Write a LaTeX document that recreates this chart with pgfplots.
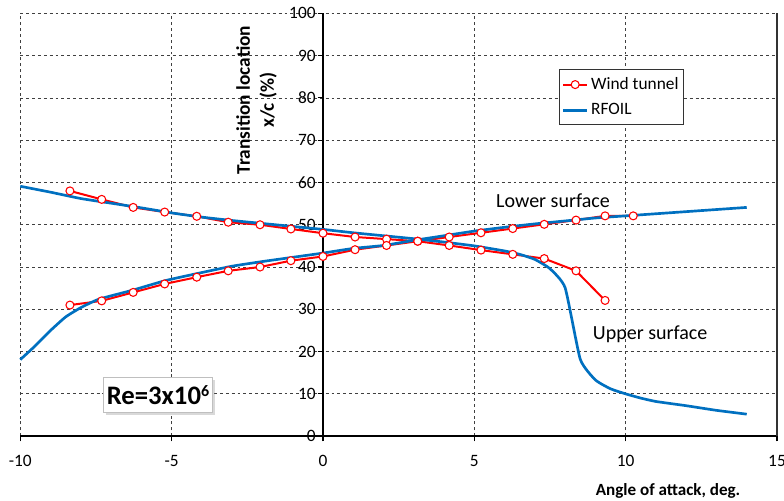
\documentclass[border=0pt]{standalone}
\usepackage{fontspec}
\setmainfont{Carlito}
\usepackage{pgfplots}
\pgfplotsset{compat=1.18}
\usetikzlibrary{shadows}
\definecolor{wtred}{RGB}{255,0,0}
\definecolor{rfblue}{RGB}{0,112,192}

\begin{document}
\begin{tikzpicture}
\begin{axis}[
    scale only axis,
    width=567pt, height=316.8pt,
    xmin=-10, xmax=15, ymin=0, ymax=100,
    axis x line=bottom, axis y line=middle,
    axis line style={-, line width=1.6pt, black},
    xtick={-10,-5,...,15}, ytick={0,10,...,100},
    hide obscured x ticks=false, hide obscured y ticks=false,
    grid=major,
    major grid style={dash pattern=on 2.2pt off 2.2pt, black!75, line width=0.6pt},
    tick style={black, line width=0.8pt},
    major tick length=4pt,
    tick align=outside,
    /pgf/number format/assume math mode=true,
    tick label style={font=\fontsize{13}{15}\selectfont},
    xticklabel style={yshift=-7pt},
    yticklabel style={xshift=2pt},
    xlabel={Angle of attack, deg.},
    xlabel style={at={(axis description cs:0.856,-0.1286)}, anchor=center,
        font=\fontsize{12.8}{15}\selectfont\bfseries},
    ylabel={Transition location\\x/c (\%)},
    ylabel style={at={(axis description cs:0.3122,0.7947)}, anchor=center, rotate=90,
        align=center, font=\fontsize{14.5}{18}\selectfont\bfseries},
    legend style={at={(axis description cs:0.7116,0.868)}, anchor=north west,
        draw=black!80, line width=0.6pt, font=\fontsize{13}{15}\selectfont,
        inner xsep=2pt, inner ysep=4pt, row sep=5pt},
    legend cell align=left,
    legend image code/.code={\draw[mark repeat=2,mark phase=2,#1] plot coordinates {(0pt,0pt) (9pt,0pt) (18pt,0pt)};},
    clip=false,
]
% wind tunnel, upper surface
\addplot[wtred, line width=1.5pt, mark=*, mark size=3pt,
    mark options={fill=white, draw=wtred, line width=0.8pt}] coordinates {
(-8.36,58.0) (-7.31,56.0) (-6.27,54.1) (-5.23,53.0) (-4.17,52.0) (-3.13,50.6)
(-2.08,50.0) (-1.06,49.0) (0,48.0) (1.06,47.1) (2.1,46.6) (3.13,46.1)
(4.17,45.1) (5.22,44.0) (6.27,43.0) (7.31,42.0) (8.36,39.1) (9.32,32.1)
};
\addlegendentry{Wind tunnel}
% wind tunnel, lower surface
\addplot[wtred, line width=1.5pt, mark=*, mark size=3pt,
    mark options={fill=white, draw=wtred, line width=0.8pt}, forget plot] coordinates {
(-8.36,31.0) (-7.31,32.0) (-6.27,34.0) (-5.23,36.0) (-4.17,37.6) (-3.13,39.1)
(-2.08,40.0) (-1.06,41.5) (0,42.5) (1.06,44.1) (2.1,45.1) (3.13,46.1)
(4.17,47.1) (5.22,48.1) (6.27,49.1) (7.31,50.1) (8.36,51.1) (9.32,52.1) (10.25,52.1)
};
% RFOIL, upper surface
\addplot[rfblue, line width=2pt, smooth, tension=0.3] coordinates {
(-10,59.1) (-9,57.7) (-8,56.2) (-7,55.1) (-6,54.0) (-5,52.8) (-4,51.8) (-3,51.0)
(-2,50.3) (-1,49.6) (0,48.9) (1,48.1) (2,47.4) (3,46.7) (4,45.9) (5,45.0)
(6,43.8) (6.5,43.0) (7,41.8) (7.5,39.6) (8,35.1) (8.5,18.2) (9,13.3) (9.5,11.2)
(10,10.0) (10.5,9.0) (11,8.2) (12,7.2) (13,6.1) (14,5.2)
};
\addlegendentry{RFOIL}
% RFOIL, lower surface
\addplot[rfblue, line width=2pt, smooth, tension=0.3, forget plot] coordinates {
(-10,18.1) (-9.5,21.4) (-9,25.0) (-8.5,28.2) (-8,30.4) (-7.4,32.4) (-6.3,34.5)
(-5.2,36.8) (-4,38.7) (-3,40.2) (-2,41.3) (-1,42.3) (0,43.3) (1,44.4) (2,45.1)
(3,46.3) (4,47.4) (5,48.5) (6,49.4) (7,50.2) (8,50.9) (9,51.6) (10,52.1)
(11,52.6) (12,53.1) (13,53.6) (14,54.1)
};
\draw[black!80, line width=0.8pt] (axis cs:15,0) -- (axis cs:15,100);
\node[font=\fontsize{15}{18}\selectfont] at (axis cs:7.6,55.8) {Lower surface};
\node[font=\fontsize{15}{18}\selectfont] at (axis cs:10.81,24.1) {Upper surface};
\node[draw=black!25, fill=white, line width=0.5pt, minimum width=82pt, minimum height=26pt,
    inner sep=0pt, drop shadow={shadow xshift=2pt, shadow yshift=-2pt, opacity=0.3},
    font=\fontsize{20}{24}\selectfont\bfseries] at (axis cs:-5.45,9.8)
    {Re=3x10\raisebox{6pt}{\fontsize{12}{12}\selectfont 6}};
\coordinate (bbsw) at (rel axis cs:0,0);
\coordinate (bbne) at (rel axis cs:1,1);
\end{axis}
\pgfresetboundingbox
\useasboundingbox ([xshift=-15.2pt,yshift=-48.2pt]bbsw) rectangle ([xshift=5.25pt,yshift=10pt]bbne);
\end{tikzpicture}
\end{document}
